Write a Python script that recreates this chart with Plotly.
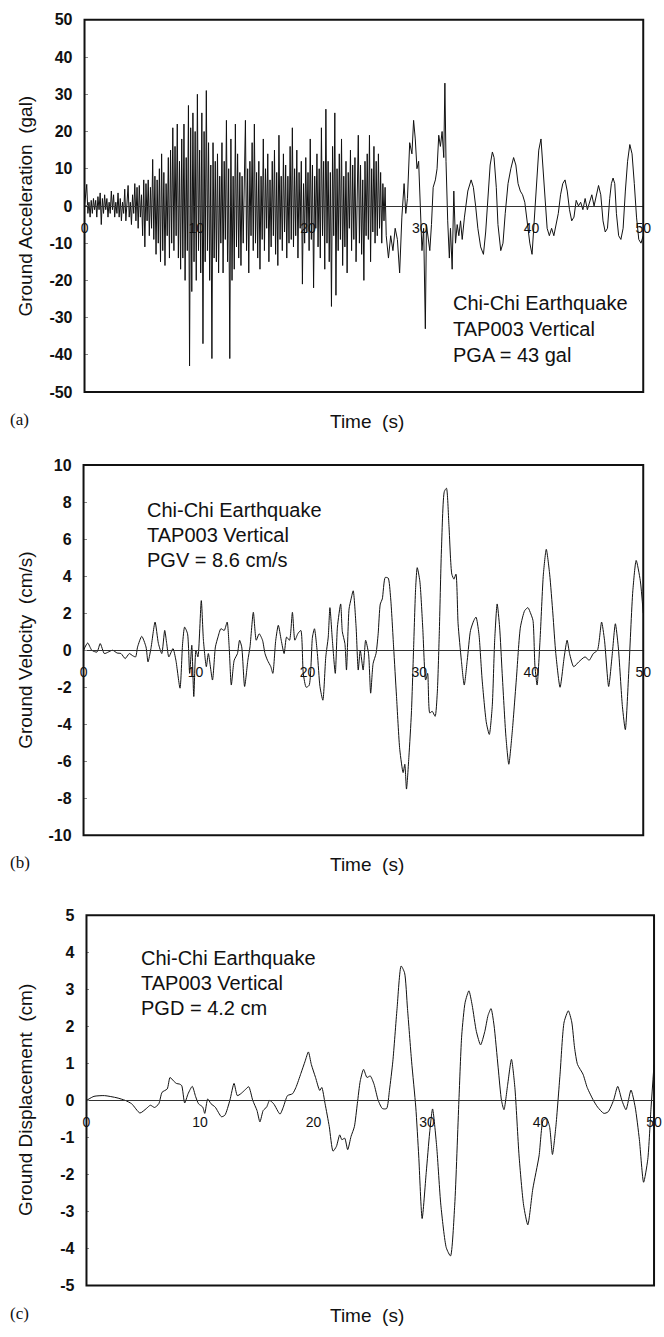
import numpy as np
import plotly.graph_objects as go

W, H = 664, 1337

# ---------------- data ----------------
# (a) Ground acceleration (gal): dense part sampled every 0.1 s from 0 to 27 s
ACC_DT = 0.1
acc_dense = [
    0, 3, 5.8, -2, 1, -3, 1.5, -2, 2, -1,
    1.5, -3, 2.5, -1, 3.5, -5, 2, -2, 3, -1,
    2, -3, 1, -2, 4, -1, 3, -3, 1, -2,
    3.5, -3, 2, -4, 1, -2, 4.5, -4, 2, 5.5,
    -3, 1, -5, 3, -2, 6, -4, 5, -6, 5.5,
    -3, 3, -8, 7, -11, 6, -4, 7, -8, 5,
    -6, 12.5, -9, 8, -13, 7, -10, 10, -15, 14,
    -12, 9, -16, 6, -8, 13, -14, 15, -10, 21,
    -12, 16, -8, 22, -14, 12, -17, 18, -14, 22,
    -20, 13, -12, 27, -43, 21, -23, 25, -15, 20,
    -20, 30, -12, 15, -18, 25, -37, 20, -15, 31,
    -12, 17, -20, 11, -41, 17, -14, 12, -15, 14,
    -18, 8, -10, 17, -18, 12, -9, 23, -15, 10,
    -41, 18, -20, 8, -17, 22, -11, 14, -14, 9,
    -16, 8, -10, 14, 23, -12, 10, -18, 12, -8,
    17, -12, 22, -10, 9, -14, 12, -17, 8, -9,
    18, -12, 10, -6, 14, -15, 7, -11, 12, -8,
    15, -13, 9, -16, 19, -9, 8, -12, 14, -7,
    11, -14, 8, -10, 16, -9, 21, -11, 10, -8,
    15, -14, 9, -6, 12, -21, 6, -10, 13, -7,
    9, -12, 18, -9, 11, -22, 8, -6, 14, -11,
    10, -14, 21, -8, 12, -17, 26, -10, 12, -15,
    9, -27, 16, -8, 25, -24, 10, -12, 14, -9,
    18, -16, 8, -11, 12, -18, 9, -6, 15, -12,
    11, -9, 13, -15, 8, 19, -10, 11, -13, 7,
    -20, 12, -8, 14, -9, 19, -15, 10, -7, 16,
    -10, 12, -8, 14, -6, 9, -10, 6, -4, 5,
    -8,
]
acc_tail_t = [
    27.2, 27.4, 27.6, 27.8, 28.0, 28.2, 28.4, 28.6, 28.75, 28.9,
    29.1, 29.3, 29.45, 29.6, 29.75, 29.9, 30.05, 30.2, 30.35, 30.5,
    30.6, 30.75, 30.9, 31.05, 31.2, 31.4, 31.55, 31.7, 31.85, 32.0,
    32.15, 32.25, 32.35, 32.5, 32.65, 32.75, 32.9, 33.05, 33.2, 33.35,
    33.5, 33.65, 33.8, 34.0, 34.3, 34.6, 34.8, 35.0, 35.2, 35.45,
    35.7, 35.9, 36.1, 36.3, 36.5, 36.65, 36.85, 37.0, 37.25, 37.45,
    37.65, 37.9, 38.15, 38.4, 38.6, 38.8, 39.0, 39.2, 39.4, 39.6,
    39.85, 40.05, 40.25, 40.45, 40.65, 40.85, 41.05, 41.2, 41.4, 41.6,
    41.8, 42.0, 42.2, 42.4, 42.6, 42.8, 43.0, 43.2, 43.4, 43.6,
    43.8, 44.0, 44.2, 44.4, 44.6, 44.8, 45.0, 45.2, 45.4, 45.6,
    45.8, 46.0, 46.2, 46.4, 46.6, 46.8, 47.0, 47.15, 47.3, 47.45,
    47.6, 47.8, 48.0, 48.2, 48.4, 48.6, 48.8, 49.0, 49.2, 49.4,
    49.6, 49.8, 50.0,
]
acc_tail_v = [
    -14, -8, -12, -6, -9, -18, -3, 6, -2, 2,
    17, 14, 23, 18, 10, 12, -2, -12, -6, -33,
    -5, -8, -12, -5, 5, 7, 10, 19, 16, 20,
    13, 33, 12, -4, -14, -6, -17, 4, -10, -5,
    -8, -4, -9, -3, 4, 7, 5, 0, -6, -11,
    -13, -7, 3, 11, 14.5, 13, 5, -5, -12, -10,
    -2, 6, 10, 13, 11, 6, 4, 3, 1, -4,
    -10, -13, -4, 6, 15, 18, 10, 2, -6, -8,
    -6, -8, -5, -2, 3, 6, 7, 4, -1, -4,
    -3, 1.5, 0, 1, -1, 2, -1, 1, 3, 0,
    3, 5.5, 3, -4, -7, -6, 2, 6, 7.5, 6,
    -2, -8, -9, -6, 4, 12, 16.5, 14, 6, -3,
    -9, -10, -8,
]

# (b) Ground velocity (cm/s)
vel_t = [
    0, 0.37, 0.74, 1.2, 1.49, 1.86, 2.2, 2.6, 3.0, 3.35,
    3.72, 4.09, 4.4, 4.65, 4.83, 5.2, 5.58, 5.76, 6.02, 6.39,
    6.69, 6.99, 7.25, 7.43, 7.62, 7.99, 8.25, 8.62, 8.85, 9.03,
    9.29, 9.48, 9.67, 9.85, 10.04, 10.22, 10.52, 10.71, 10.97, 11.15,
    11.52, 11.78, 12.01, 12.27, 12.57, 12.83, 13.01, 13.2, 13.46, 13.75,
    13.94, 14.13, 14.39, 14.68, 14.87, 15.17, 15.43, 15.69, 15.99, 16.21,
    16.43, 16.73, 16.91, 17.17, 17.4, 17.66, 17.92, 18.14, 18.4, 18.66,
    18.88, 19.14, 19.41, 19.63, 19.89, 20.15, 20.45, 20.63, 20.89, 21.12,
    21.38, 21.64, 21.86, 22.01, 22.23, 22.49, 22.68, 22.97, 23.12, 23.35,
    23.49, 23.72, 23.9, 24.09, 24.35, 24.54, 24.72, 24.98, 25.2, 25.46,
    25.65, 25.87, 26.13, 26.32, 26.51, 26.69, 26.95, 27.21, 27.43, 27.7,
    27.96, 28.25, 28.55, 28.7, 28.85, 29.07, 29.29, 29.48, 29.67, 29.81,
    30.04, 30.3, 30.56, 30.74, 30.93, 31.15, 31.41, 31.6, 31.78, 31.97,
    32.23, 32.42, 32.64, 32.9, 33.09, 33.27, 33.46, 33.75, 34.01, 34.28,
    34.57, 34.87, 35.06, 35.32, 35.61, 35.99, 36.25, 36.51, 36.73, 36.95,
    37.17, 37.4, 37.73, 37.99, 38.29, 38.66, 39.03, 39.41, 39.7, 39.96,
    40.15, 40.33, 40.52, 40.78, 41.08, 41.34, 41.64, 41.93, 42.19, 42.57,
    42.94, 43.2, 43.42, 43.79, 44.24, 44.8, 45.17, 45.54, 45.91, 46.28,
    46.54, 46.91, 47.21, 47.51, 47.77, 48.14, 48.4, 48.7, 49.07, 49.37,
    49.74, 50.0,
]
vel_v = [
    0, 0.39, 0.0, -0.1, 0.36, -0.18, -0.1, 0.0, -0.15, -0.18,
    -0.45, -0.18, -0.3, -0.36, 0.18, 0.75, 0.18, -0.63, 0.09, 1.52,
    0.36, -0.18, 1.07, 0.36, -0.36, 0.09, -0.54, -2.05, 0.36, 1.25,
    0.89, -1.25, 0.27, -2.5, 0.0, -0.36, 2.68, 0.54, -0.89, -0.18,
    -1.61, 0.18, 0.71, 1.16, 1.07, 1.52, 0.18, -1.88, -0.54, -0.18,
    0.54, 0.18, -1.96, -0.54, 0.18, 2.05, 0.54, 0.89, 0.54, -0.18,
    -0.54, -0.89, -1.25, 0.54, 1.35, 0.54, -0.18, 0.71, 0.54, 2.05,
    0.54, 0.89, 1.07, -1.25, -2.0, -1.9, 0.71, 1.16, -0.18, -1.96,
    -2.7, -0.36, 0.71, 2.3, 0.54, -1.25, 1.25, 2.5, 1.0, 0.36,
    -1.07, 2.23, 2.77, 3.21, 1.25, -1.07, 0.0, -1.07, 0.54, -0.18,
    -2.32, -0.71, -0.18, 0.89, 2.5, 2.77, 3.93, 3.9, 2.86, 0.18,
    -2.5, -5.36, -6.61, -6.16, -7.5, -5.71, -3.39, 0.0, 3.39, 4.46,
    3.75, 1.25, -1.61, -1.25, -3.39, -3.3, -3.57, -2.32, 0.89, 5.36,
    8.57, 8.75, 6.79, 4.11, 3.84, 4.11, 1.43, -0.54, -1.88, -0.54,
    1.07, 1.61, 1.79, 0.89, -1.61, -3.93, -4.55, -3.04, 0.54, 2.5,
    1.25, -1.25, -4.64, -6.16, -4.46, -1.61, 1.25, 2.14, 2.3, 1.96,
    1.61, -0.89, -1.88, 0.54, 4.11, 5.45, 4.11, 1.96, -0.18, -2.0,
    -0.36, 0.54, -0.18, -0.89, -0.63, -0.36, -0.54, -0.18, 0.0, 1.52,
    0.54, -1.96, -0.36, 1.43, 0.18, -3.04, -4.29, -1.25, 3.21, 4.85,
    3.75, 2.0,
]

# (c) Ground displacement (cm)
disp_t = [
    0.0, 0.66, 1.58, 2.69, 3.42, 3.98, 4.71, 5.27, 5.63, 6.0,
    6.37, 6.66, 7.11, 7.36, 7.66, 7.92, 8.21, 8.39, 8.65, 8.95,
    9.32, 9.61, 9.87, 10.24, 10.42, 10.68, 10.97, 11.34, 11.89, 12.19,
    12.63, 13.0, 13.29, 13.59, 13.92, 14.29, 14.65, 15.02, 15.28, 15.57,
    15.87, 16.13, 16.49, 17.05, 17.34, 17.71, 18.15, 18.45, 18.89, 19.26,
    19.55, 19.81, 20.18, 20.55, 20.73, 21.02, 21.39, 21.72, 22.02, 22.31,
    22.5, 22.75, 23.01, 23.31, 23.6, 23.86, 24.12, 24.41, 24.71, 25.0,
    25.33, 25.7, 26.07, 26.44, 26.69, 26.99, 27.36, 27.72, 28.02, 28.28,
    28.64, 29.01, 29.27, 29.57, 29.93, 30.23, 30.49, 30.85, 31.22, 31.7,
    32.07, 32.44, 32.81, 33.06, 33.36, 33.69, 33.98, 34.35, 34.72, 35.09,
    35.38, 35.64, 35.9, 36.27, 36.56, 36.78, 37.11, 37.44, 37.74, 38.11,
    38.51, 38.88, 39.32, 39.87, 40.24, 40.54, 40.8, 41.05, 41.35, 41.72,
    42.08, 42.45, 42.75, 43.0, 43.26, 43.74, 44.11, 44.66, 45.03, 45.58,
    45.95, 46.43, 46.8, 47.17, 47.53, 47.97, 48.34, 48.71, 49.08, 49.45,
    49.74, 50.0,
]
disp_v = [
    0.0, 0.11, 0.13, 0.07, 0.0, -0.09, -0.34, -0.22, -0.13, -0.19,
    -0.09, 0.22, 0.31, 0.62, 0.53, 0.46, 0.44, 0.40, -0.07, 0.18,
    0.38, 0.11, -0.09, -0.18, -0.35, 0.04, -0.09, -0.18, -0.44, -0.40,
    0.0, 0.46, 0.13, 0.18, 0.27, 0.37, 0.0, -0.27, -0.58, -0.27,
    -0.18, 0.0, -0.09, -0.37, -0.18, 0.13, 0.18, 0.35, 0.73, 1.06,
    1.31, 0.97, 0.62, 0.27, 0.35, -0.09, -0.71, -1.37, -1.24, -0.93,
    -1.06, -1.02, -1.33, -0.97, -0.71, -0.09, 0.53, 0.84, 0.62, 0.66,
    0.44, 0.0, -0.22, -0.22, 0.27, 1.06, 2.48, 3.63, 3.45, 2.48,
    1.06, -0.18, -1.5, -3.19, -1.95, -0.88, -0.23, -1.24, -2.83, -3.98,
    -4.2, -2.83, 0.0, 1.77, 2.65, 2.96, 2.57, 1.86, 1.5, 1.86,
    2.3, 2.48, 2.04, 0.88, 0.0, -0.25, 0.44, 1.11, 0.35, -1.5,
    -2.83, -3.36, -2.39, -1.5, -0.53, -0.49, -0.71, -1.46, -0.71, 0.71,
    2.12, 2.42, 2.12, 1.42, 0.97, 0.71, 0.35, 0.0, -0.18, -0.35,
    -0.31, 0.0, 0.38, 0.0, -0.25, 0.28, -0.18, -1.06, -2.21, -1.59,
    -0.18, 0.97,
]

x_ticks = [0, 10, 20, 30, 40, 50]
acc_ticks = [50, 40, 30, 20, 10, 0, -10, -20, -30, -40, -50]
vel_ticks = [10, 8, 6, 4, 2, 0, -2, -4, -6, -8, -10]
disp_ticks = [5, 4, 3, 2, 1, 0, -1, -2, -3, -4, -5]

acc_notes = ["Chi-Chi Earthquake", "TAP003 Vertical", "PGA = 43 gal"]
vel_notes = ["Chi-Chi Earthquake", "TAP003 Vertical", "PGV = 8.6 cm/s"]
disp_notes = ["Chi-Chi Earthquake", "TAP003 Vertical", "PGD = 4.2 cm"]

# ---------------- build figure ----------------
acc_t = list(np.round(np.arange(len(acc_dense)) * ACC_DT, 2)) + acc_tail_t
acc_v = acc_dense + acc_tail_v

SANS = "Liberation Sans, Arial, sans-serif"
SERIF = "Liberation Serif, Times New Roman, serif"

panels = [
    dict(t=acc_t, v=acc_v, box=(82, 651, 12, 389), rng=50, ticks=acc_ticks,
         title="Ground Acceleration\u00a0 (gal)", shape="linear",
         notes=acc_notes, note_x=32.8, note_y=[-26, -33, -40], tag="(a)"),
    dict(t=vel_t, v=vel_v, box=(81, 651, 463, 838), rng=10, ticks=vel_ticks,
         title="Ground Velocity\u00a0 (cm/s)", shape="spline",
         notes=vel_notes, note_x=5.5, note_y=[7.6, 6.25, 4.9], tag="(b)"),
    dict(t=disp_t, v=disp_v, box=(84, 662, 919, 1294), rng=5, ticks=disp_ticks,
         title="Ground Displacement\u00a0 (cm)", shape="spline",
         notes=disp_notes, note_x=4.6, note_y=[3.85, 3.18, 2.5], tag="(c)"),
]

fig = go.Figure()
layout = dict(width=W, height=H, margin=dict(l=0, r=0, t=0, b=0),
              paper_bgcolor="white", plot_bgcolor="white", showlegend=False)
annotations = []
shapes = []

for i, p in enumerate(panels, start=1):
    sfx = "" if i == 1 else str(i)
    xa, ya = "x" + sfx, "y" + sfx
    x0, x1, ytop, ybot = p["box"]
    dom_x = [x0 / W, x1 / W]
    dom_y = [1 - ybot / H, 1 - ytop / H]
    zero_pos = (dom_y[0] + dom_y[1]) / 2

    tr = go.Scatter(x=p["t"], y=p["v"], mode="lines",
                    line=dict(color="#111111", width=1, shape=p["shape"],
                              smoothing=0.6 if p["shape"] == "spline" else None),
                    hoverinfo="skip", showlegend=False, xaxis=xa, yaxis=ya)
    fig.add_trace(tr)

    layout["xaxis" + sfx] = dict(
        domain=dom_x, range=[0, 50], anchor="free", position=zero_pos,
        showline=True, linecolor="#333333", linewidth=1, showgrid=False,
        zeroline=False, ticks="", tickvals=x_ticks,
        ticktext=[str(v) for v in x_ticks], ticklabelstandoff=9,
        tickfont=dict(family=SANS, size=14, color="#111111"),
    )
    layout["yaxis" + sfx] = dict(
        domain=dom_y, range=[-p["rng"], p["rng"]], anchor=xa,
        showline=False, showgrid=False, zeroline=False,
        ticks="inside", ticklen=3, tickcolor="#888888", tickwidth=1,
        tickvals=p["ticks"], ticktext=[str(v) for v in p["ticks"]],
        ticklabelstandoff=11,
        tickfont=dict(family=SANS, size=16, color="#111111", weight="bold"),
    )
    shapes.append(dict(type="rect", xref=xa + " domain", yref=ya + " domain",
                       x0=0, x1=1, y0=0, y1=1,
                       line=dict(color="#111111", width=2), layer="above"))

    # y-axis title
    annotations.append(dict(
        text=p["title"], xref="paper", yref="paper",
        x=22 / W, y=zero_pos, xanchor="center", yanchor="middle",
        textangle=-90, showarrow=False,
        font=dict(family=SANS, size=19, color="#111111")))
    # x-axis title
    annotations.append(dict(
        text="Time\u00a0 (s)", xref="paper", yref="paper",
        x=370 / W, y=1 - (ybot + 30) / H, xanchor="center", yanchor="middle",
        showarrow=False, font=dict(family=SANS, size=19, color="#111111")))
    # panel tag
    annotations.append(dict(
        text=p["tag"], xref="paper", yref="paper",
        x=4 / W, y=1 - (ybot + 28) / H, xanchor="left", yanchor="middle",
        showarrow=False, font=dict(family=SERIF, size=17, color="#111111")))
    # in-plot notes
    for txt, yv in zip(p["notes"], p["note_y"]):
        annotations.append(dict(
            text=txt, xref=xa, yref=ya, x=p["note_x"], y=yv,
            xanchor="left", yanchor="middle", showarrow=False,
            font=dict(family=SANS, size=20, color="#111111")))

layout["annotations"] = annotations
layout["shapes"] = shapes
fig.update_layout(**layout)

fig.write_html("out.html")
